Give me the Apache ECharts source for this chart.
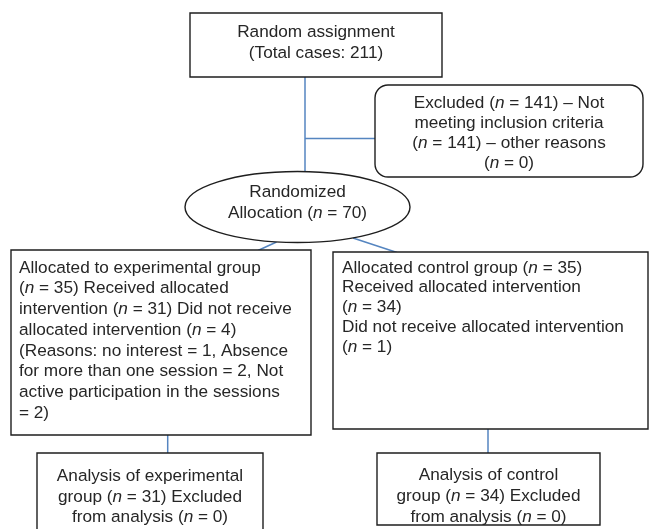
<!DOCTYPE html>
<html>
<head>
<meta charset="utf-8">
<script src="https://cdn.jsdelivr.net/npm/echarts@6/dist/echarts.min.js"></script>
<style>
html,body{margin:0;padding:0;background:#fff;}
#chart{width:652px;height:529px;}
</style>
</head>
<body>
<div id="chart"></div>
<script>
// ---- Data (counts and texts of the flow diagram) ----
const totalCases = 211;
const excludedTotal = 141;
const excludedNotMeeting = 141;
const excludedOther = 0;
const randomized = 70;
const expAllocated = 35, expReceived = 31, expNotReceived = 4;
const expReasons = [1, 2, 2];
const ctrlAllocated = 35, ctrlReceived = 34, ctrlNotReceived = 1;
const expAnalysed = 31, expExcluded = 0;
const ctrlAnalysed = 34, ctrlExcluded = 0;

const topLines = ['Random assignment', `(Total cases: ${totalCases})`];
const excludedLines = [
  `Excluded ({i|n} = ${excludedTotal}) – Not`,
  'meeting inclusion criteria',
  `({i|n} = ${excludedNotMeeting}) – other reasons`,
  `({i|n} = ${excludedOther})`
];
const allocationLines = ['Randomized', `Allocation ({i|n} = ${randomized})`];
const experimentalLines = [
  'Allocated to experimental group',
  `({i|n} = ${expAllocated}) Received allocated`,
  `intervention ({i|n} = ${expReceived}) Did not receive`,
  `allocated intervention ({i|n} = ${expNotReceived})`,
  `(Reasons: no interest = ${expReasons[0]}, Absence`,
  `for more than one session = ${expReasons[1]}, Not`,
  'active participation in the sessions',
  `= ${expReasons[2]})`
];
const controlLines = [
  `Allocated control group ({i|n} = ${ctrlAllocated})`,
  'Received allocated intervention',
  `({i|n} = ${ctrlReceived})`,
  'Did not receive allocated intervention',
  `({i|n} = ${ctrlNotReceived})`
];
const analysisExpLines = [
  'Analysis of experimental',
  `group ({i|n} = ${expAnalysed}) Excluded`,
  `from analysis ({i|n} = ${expExcluded})`
];
const analysisCtrlLines = [
  'Analysis of control',
  `group ({i|n} = ${ctrlAnalysed}) Excluded`,
  `from analysis ({i|n} = ${ctrlExcluded})`
];

// ---- Styles / layout ----
const FONT = 'Liberation Sans, Arial, sans-serif';
const FS = 17.2;
const TXT = '#262626';
const BORDER = '#1e1e1e';
const LINK = '#5585c0';
const rich = { i: { fontStyle: 'italic', fontSize: FS, fontFamily: FONT, fill: TXT } };

function box(x, y, w, h, r) {
  return { type: 'rect', z: 2, shape: { x, y, width: w, height: h, r: r || 0 },
    style: { fill: '#fff', stroke: BORDER, lineWidth: 1.4 } };
}
function text(lines, x, y, align, vAlign, lh) {
  return { type: 'text', z: 3, style: {
    x, y, text: lines.join('\n'), fill: TXT, fontSize: FS, fontFamily: FONT,
    align, verticalAlign: vAlign, lineHeight: lh, rich } };
}
function link(x1, y1, x2, y2) {
  return { type: 'line', z: 1, shape: { x1, y1, x2, y2 },
    style: { stroke: LINK, lineWidth: 1.5 } };
}

const chart = echarts.init(document.getElementById('chart'), null, { renderer: 'canvas' });
chart.setOption({
  backgroundColor: '#fff',
  animation: false,
  graphic: [
    link(305, 77, 305, 172),
    link(305, 138.5, 375, 138.5),
    link(276.5, 242, 258, 250.5),
    link(353, 238, 397, 252.5),
    link(167.7, 435, 167.7, 453),
    link(488, 429, 488, 453),

    box(190, 13, 252, 64),
    text(topLines, 316, 43, 'center', 'middle', 21),

    box(375, 85, 268, 92, 13),
    text(excludedLines, 509, 133, 'center', 'middle', 20),

    { type: 'ellipse', z: 2, shape: { cx: 297.5, cy: 207, rx: 112.5, ry: 35.5 },
      style: { fill: '#fff', stroke: BORDER, lineWidth: 1.4 } },
    text(allocationLines, 297.5, 202.5, 'center', 'middle', 21),

    box(11, 250, 300, 185),
    text(experimentalLines, 19, 257.5, 'left', 'top', 20.75),

    box(333, 252, 315, 177),
    text(controlLines, 342, 258, 'left', 'top', 19.8),

    box(37, 453, 226, 90),
    text(analysisExpLines, 150, 497, 'center', 'middle', 20.5),

    box(377, 453, 223, 72),
    text(analysisCtrlLines, 488.5, 496, 'center', 'middle', 21)
  ]
});
</script>
</body>
</html>
